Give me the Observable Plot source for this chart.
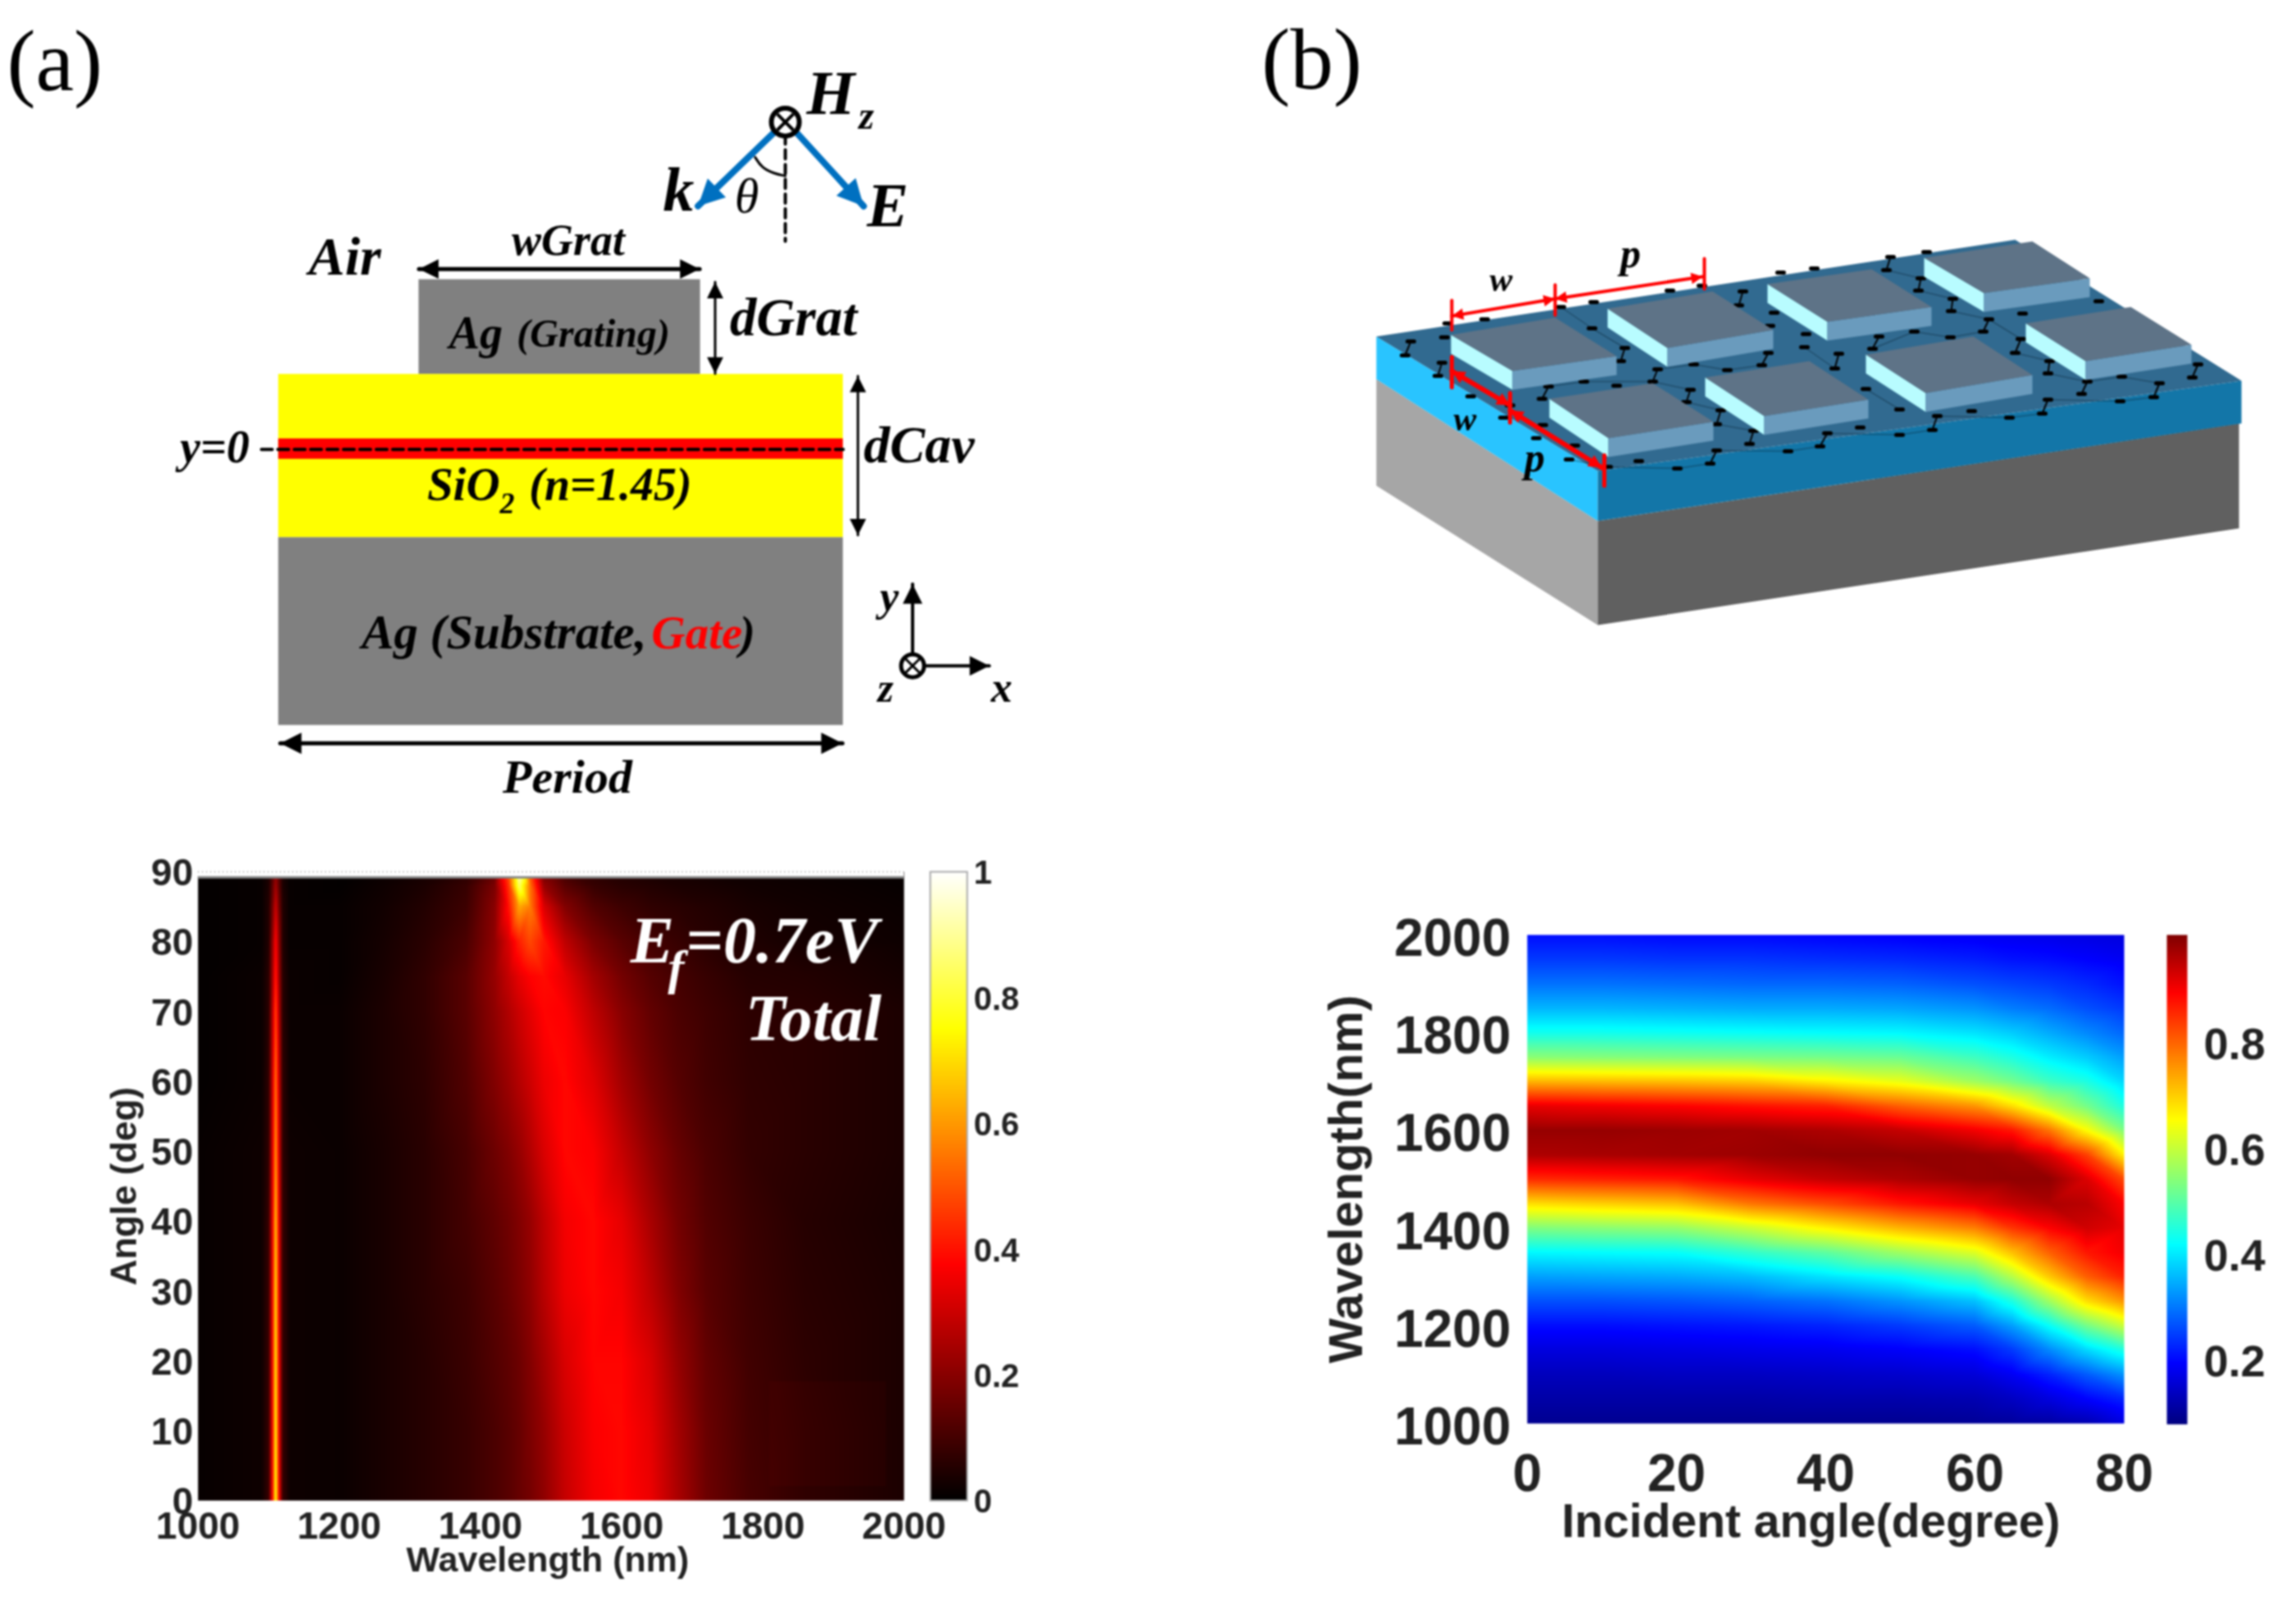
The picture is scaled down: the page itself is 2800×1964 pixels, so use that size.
<!DOCTYPE html>
<html><head><meta charset="utf-8">
<style>
html,body{margin:0;padding:0;background:#fff}
#stage{position:relative;width:2800px;height:1964px;overflow:hidden;filter:blur(0.8px)}
#stage>*{position:absolute;left:0;top:0}
</style>
<script src="https://cdn.jsdelivr.net/npm/d3@7"></script>
<script src="https://cdn.jsdelivr.net/npm/@observablehq/plot@0.6"></script>
</head><body><div id="stage"></div>
<script>
// ---------- panel (a) absorption map: values ----------
const wavelengthsA=[1000,1090,1100,1105,1110,1115,1120,1130,1200,1260,1320,1380,1420,1440,1455,1470,1490,1520,1560,1600,1640,1680,1720,1780,1860,2000];
const anglesA=[0,10,20,30,40,50,60,70,75,80,85,88,90];
const absorptionA=[
[.01,.02,.08,.35,.76,.35,.08,.02,.015,.035,.055,.08,.11,.13,.15,.17,.21,.29,.36,.385,.35,.25,.16,.105,.07,.04],
[.01,.02,.08,.34,.74,.34,.08,.02,.015,.035,.055,.08,.11,.13,.15,.18,.22,.30,.37,.385,.34,.24,.155,.10,.07,.04],
[.01,.02,.08,.34,.72,.34,.08,.02,.015,.035,.055,.085,.12,.14,.16,.19,.24,.32,.38,.38,.32,.22,.145,.095,.065,.04],
[.01,.02,.08,.33,.70,.33,.08,.02,.015,.035,.06,.09,.13,.155,.18,.21,.27,.35,.385,.36,.28,.19,.13,.09,.06,.04],
[.01,.02,.08,.32,.66,.32,.08,.02,.015,.035,.06,.10,.14,.165,.19,.22,.28,.36,.385,.34,.25,.17,.12,.085,.055,.035],
[.01,.02,.07,.30,.60,.30,.07,.02,.015,.035,.06,.105,.16,.19,.22,.26,.32,.385,.37,.29,.21,.15,.11,.075,.06,.04],
[.005,.015,.07,.28,.55,.28,.07,.015,.015,.04,.065,.12,.19,.23,.265,.30,.35,.385,.33,.24,.17,.125,.095,.07,.06,.04],
[.005,.015,.06,.25,.48,.25,.06,.015,.015,.04,.07,.13,.21,.26,.30,.335,.38,.37,.28,.20,.145,.11,.09,.065,.06,.04],
[.005,.015,.06,.22,.42,.22,.06,.015,.01,.035,.07,.13,.22,.29,.34,.375,.39,.34,.24,.17,.125,.10,.08,.055,.05,.03],
[.005,.01,.05,.20,.38,.20,.05,.01,.01,.03,.06,.11,.21,.32,.42,.48,.41,.28,.18,.13,.10,.08,.06,.045,.03,.02],
[.005,.01,.05,.16,.30,.16,.05,.01,.01,.025,.05,.09,.20,.40,.62,.56,.32,.19,.12,.09,.07,.06,.05,.035,.025,.015],
[.005,.01,.04,.13,.24,.13,.04,.01,.005,.02,.04,.08,.18,.45,.85,.55,.22,.13,.08,.06,.05,.04,.035,.025,.02,.01],
[.005,.01,.04,.11,.20,.11,.04,.01,.005,.015,.03,.06,.14,.50,.98,.50,.15,.09,.06,.045,.035,.03,.025,.02,.015,.01]
];
const xTicksA=[1000,1200,1400,1600,1800,2000];
const yTicksA=[0,10,20,30,40,50,60,70,80,90];
const barTicksA=[0,0.2,0.4,0.6,0.8,1];

// ---------- panel (b) absorption map: values ----------
const anglesB=[0,10,20,30,40,50,60,65,70,75,80];
const wavelengthsB=[1000,1050,1100,1150,1200,1250,1300,1350,1400,1450,1500,1550,1600,1650,1700,1750,1800,1850,1900,1950,2000];
const absorptionB=[
[.09,.11,.13,.16,.2,.26,.33,.41,.53,.68,.85,.96,.98,.91,.72,.54,.43,.35,.29,.24,.2],
[.09,.11,.13,.16,.2,.26,.335,.415,.54,.695,.86,.965,.98,.9,.715,.535,.43,.35,.29,.24,.2],
[.09,.11,.135,.165,.205,.265,.34,.42,.55,.71,.87,.97,.975,.89,.71,.53,.425,.345,.285,.235,.195],
[.09,.11,.135,.17,.21,.275,.355,.46,.60,.78,.91,.975,.97,.875,.70,.525,.42,.34,.28,.235,.195],
[.09,.115,.14,.175,.22,.29,.39,.50,.66,.82,.94,.985,.96,.86,.665,.52,.415,.34,.28,.23,.19],
[.09,.115,.145,.185,.24,.32,.42,.56,.72,.87,.96,.985,.94,.80,.63,.51,.41,.335,.275,.225,.185],
[.095,.12,.155,.2,.27,.36,.48,.62,.77,.91,.98,.98,.90,.75,.56,.47,.39,.32,.26,.215,.18],
[.10,.135,.18,.24,.33,.44,.58,.71,.84,.94,.985,.97,.87,.68,.52,.44,.37,.30,.25,.205,.175],
[.105,.16,.22,.31,.42,.56,.70,.80,.89,.96,.985,.92,.78,.59,.47,.40,.34,.285,.24,.20,.17],
[.12,.19,.27,.38,.52,.68,.80,.87,.93,.95,.92,.83,.65,.52,.44,.37,.31,.26,.225,.19,.165],
[.16,.22,.32,.44,.60,.75,.86,.90,.91,.89,.82,.66,.53,.44,.38,.33,.28,.24,.205,.18,.16]
];
const xTicksB=[0,20,40,60,80];
const yTicksB=[1000,1200,1400,1600,1800,2000];
const barTicksB=[0.2,0.4,0.6,0.8];

// ---------- schematic (b): device geometry in drawing units ----------
const boxL=[[1771,411],[1962,379],[2157,349],[2348,317],[1891,489],[2081,463],[2277,435],[2472,397]];
const boxT=[[1898,390],[2090,358],[2284,331],[2480,297],[2017,470],[2208,443],[2408,413],[2600,377]];
const boxR=[[1973,437],[2164,405],[2357,377],[2550,342],[2091,517],[2280,490],[2480,460],[2674,423]];
const boxF=[[1846,455],[2035,427],[2230,395],[2421,360],[1963,537],[2153,510],[2350,482],[2545,443]];
const latticeDots=[[1722,419],[1715,436],[1763,414],[1767,397],[1812,392],[1760,445],[1755,461],[1795,486],[1835,512],[1843,497],[1882,489],[1890,474],[1933,468],[1973,473],[2017,468],[2023,453],[1978,443],[1983,427],[1943,403],[1905,377],[1945,371],[2038,357],[2077,351],[2127,358],[2122,375],[2165,384],[2160,400],[2067,447],[2108,454],[2150,448],[2158,433],[2063,478],[2058,493],[2100,503],[2095,520],[2140,528],[2135,544],[2095,552],[2087,568],[2047,574],[2000,565],[1962,572],[1922,546],[1915,563],[1875,537],[1883,521],[2182,553],[2173,335],[2214,330],[2307,316],[2302,332],[2351,310],[2344,342],[2341,357],[2383,367],[2381,382],[2427,392],[2420,407],[2468,385],[2466,416],[2459,433],[2501,443],[2499,458],[2547,468],[2540,483],[2589,462],[2635,470],[2628,487],[2682,447],[2675,463],[2561,370],[2587,492],[2499,490],[2492,507],[2452,512],[2406,504],[2364,510],[2358,527],[2318,533],[2318,502],[2277,477],[2239,452],[2244,434],[2285,428],[2293,413],[2336,407],[2380,414],[2270,524],[2230,531],[2221,547],[2204,410],[2202,426]];
const latticeLinks=[
[[1722,419],[1715,436]],[[1760,445],[1755,461]],[[1890,474],[1882,489]],[[2023,453],[2017,468]],[[1983,427],[1978,443]],[[2127,358],[2122,375]],[[2158,433],[2150,448]],[[2063,478],[2058,493]],[[2100,503],[2095,520]],[[2140,528],[2135,544]],[[2095,552],[2087,568]],[[2307,316],[2302,332]],[[2344,342],[2341,357]],[[2383,367],[2381,382]],[[2427,392],[2420,407]],[[2466,416],[2459,433]],[[2501,443],[2499,458]],[[2547,468],[2540,483]],[[2635,470],[2628,487]],[[2682,447],[2675,463]],[[2499,490],[2492,507]],[[2364,510],[2358,527]],[[2244,434],[2239,452]],[[2293,413],[2285,428]],[[2230,531],[2221,547]]
];
const latticeEdges=[
[[1915,563],[1962,572],[2047,574],[2087,568]],[[2095,552],[2182,553],[2221,547]],[[2230,531],[2318,533],[2358,527]],[[2364,510],[2452,512],[2492,507]],[[2499,490],[2587,492],[2628,487]],[[2635,470],[2589,462],[2547,468]],[[2017,468],[1933,468],[1890,474]],[[2023,453],[2067,447],[2108,454],[2150,448]],[[2140,528],[2095,520]],[[2058,493],[2100,503]],[[2017,468],[2063,478]],[[2202,426],[2239,452]],[[2277,477],[2318,502]],[[2285,428],[2336,407],[2380,414],[2420,407]],[[2427,392],[2466,416]],[[2459,433],[2501,443]],[[2499,458],[2547,468]],[[2302,332],[2344,342]],[[2341,357],[2383,367]],[[2381,382],[2427,392]],[[1943,403],[1983,427]],[[1905,377],[1943,403]]
];

// ---------- helpers ----------
const flatten=(xs,ys,rows)=>rows.flatMap((r,i)=>r.map((v,j)=>({x:xs[j],y:ys[i],v})));
const hot={type:"linear",domain:[0,.375,.75,1],range:["#000000","#ff0000","#ffff00","#ffffff"],clamp:true};
const jet={type:"linear",domain:[.074,.19,.415,.53,.65,.89,1],range:["#00007f","#0000ff","#00ffff","#7fff7f","#ffff00","#ff0000","#7f0000"],clamp:true};
const frameOf=(l,t,r,b)=>({width:2800,height:1964,marginLeft:l,marginTop:t,marginRight:2800-r,marginBottom:1964-b,style:{background:"transparent",overflow:"visible"}});
const sans={fontFamily:"Liberation Sans",fontWeight:"bold",fill:"#222"};
const label=d=>String(d);
const stage=document.getElementById("stage");
const add=p=>stage.appendChild(p);

// ---------- heat map (a) ----------
add(Plot.plot({...frameOf(241,1063,1102,1830),
  x:{domain:[1000,2000]},y:{domain:[0,90]},color:hot,
  marks:[
    Plot.raster(flatten(wavelengthsA,anglesA,absorptionA),{x:"x",y:"y",fill:"v",interpolate:"barycentric"}),
    Plot.rect([{x1:1810,x2:1975,y1:2,y2:17}],{x1:"x1",x2:"x2",y1:"y1",y2:"y2",fill:"#ff0000",fillOpacity:.035}),
    Plot.rect([{x1:1000,x2:2000,y1:89.2,y2:90.2}],{x1:"x1",x2:"x2",y1:"y1",y2:"y2",fill:"#fff"}),
    Plot.ruleY([89.2],{stroke:"#888",strokeWidth:3}),
    Plot.ruleY([90],{stroke:"#ccc",strokeWidth:2,strokeDasharray:"2 3"}),
    Plot.axisX({ticks:xTicksA,tickFormat:label,label:null,tickSize:0,tickPadding:14,fontSize:46,...sans}),
    Plot.axisY({ticks:yTicksA,tickFormat:label,label:null,tickSize:0,tickPadding:6,fontSize:46,dy:2,...sans}),
    Plot.text(["Wavelength (nm)"],{frameAnchor:"bottom",dy:86,dx:-4,fontSize:43,...sans}),
    Plot.text(["Angle (deg)"],{frameAnchor:"left",textAnchor:"middle",dx:-90,rotate:-90,fontSize:44,...sans})
  ]}));

// ---------- colour bar (a) ----------
add(Plot.plot({...frameOf(1134,1063,1179,1830),
  x:{domain:[0,1],axis:null},y:{domain:[0,1]},color:hot,
  marks:[
    Plot.raster({x1:0,x2:1,y1:0,y2:1,fill:(x,y)=>y}),
    Plot.frame({stroke:"#aaa",strokeWidth:2}),
    Plot.axisY({anchor:"right",ticks:barTicksA,tickFormat:label,label:null,tickSize:0,tickPadding:8,fontSize:40,dy:2,...sans})
  ]}));

// ---------- heat map (b) ----------
add(Plot.plot({...frameOf(1862,1140,2590,1736),
  x:{domain:[0,80]},y:{domain:[1000,2000]},color:jet,
  marks:[
    Plot.raster(flatten(wavelengthsB,anglesB,absorptionB).map(d=>({x:d.y,y:d.x,v:d.v})),{x:"x",y:"y",fill:"v",interpolate:"barycentric"}),
    Plot.axisX({ticks:xTicksB,tickFormat:label,label:null,tickSize:0,tickPadding:37,fontSize:64,...sans}),
    Plot.axisY({ticks:yTicksB,tickFormat:label,label:null,tickSize:0,tickPadding:20,fontSize:64,dy:5,...sans}),
    Plot.text(["Incident angle(degree)"],{frameAnchor:"bottom",dy:138,dx:-18,fontSize:57,...sans}),
    Plot.text(["Wavelength(nm)"],{frameAnchor:"left",textAnchor:"middle",dx:-220,rotate:-90,fontSize:58,...sans})
  ]}));

// ---------- colour bar (b) ----------
add(Plot.plot({...frameOf(2642,1140,2667,1737),
  x:{domain:[0,1],axis:null},y:{domain:[.074,1]},color:jet,
  marks:[
    Plot.raster({x1:0,x2:1,y1:.074,y2:1,fill:(x,y)=>y}),
    Plot.axisY({anchor:"right",ticks:barTicksB,tickFormat:label,label:null,tickSize:0,tickPadding:20,fontSize:54,dy:5,...sans})
  ]}));

// ---------- schematics ----------
const poly=(pts,fill)=>Plot.line(pts,{x:d=>d[0],y:d=>d[1],fill,stroke:"none",curve:"linear-closed"});
const seg=(pts,stroke,strokeWidth,extra={})=>Plot.line(pts,{x:d=>d[0],y:d=>d[1],stroke,strokeWidth,...extra});
function head(from,to,size,fill){
  const dx=to[0]-from[0],dy=to[1]-from[1],n=Math.hypot(dx,dy),ux=dx/n,uy=dy/n,w=size*.5;
  return poly([to,[to[0]-ux*size-uy*w,to[1]-uy*size+ux*w],[to[0]-ux*size+uy*w,to[1]-uy*size-ux*w]],fill);
}
const arrow=(a,b,color,sw,size)=>[seg([a,b],color,sw),head(a,b,size,color)];
const dbl=(a,b,color,sw,size)=>[seg([a,b],color,sw),head(a,b,size,color),head(b,a,size,color)];
const serif=(t,x,y,size,extra={})=>Plot.text([t],{x:()=>x,y:()=>y,text:d=>d,fontSize:size,fontFamily:"Liberation Serif",fontWeight:"bold",fontStyle:"italic",textAnchor:"start",lineAnchor:"bottom",fill:"#000",...extra});

const rows=boxL.map((_,i)=>i);
const h=23;
const drop=p=>[p[0],p[1]+h];
const diagramA=[
  serif("(a)",8,110,105,{fontWeight:"normal",fontStyle:"normal"}),
  // stack
  Plot.rect([0],{x1:()=>513,x2:()=>858,y1:()=>342,y2:()=>458,fill:"#808080"}),
  Plot.rect([0],{x1:()=>341,x2:()=>1033,y1:()=>458,y2:()=>658,fill:"#ffff00"}),
  Plot.rect([0],{x1:()=>341,x2:()=>1033,y1:()=>537,y2:()=>562,fill:"#ff0000"}),
  Plot.rect([0],{x1:()=>341,x2:()=>1033,y1:()=>658,y2:()=>888,fill:"#808080"}),
  seg([[320,550],[1033,550]],"#000",4,{strokeDasharray:"13 7"}),
  // incident light
  seg([[962,165],[962,295]],"#000",4,{strokeDasharray:"11 7"}),
  ...arrow([950,160],[855,252],"#0070c0",8,32),
  ...arrow([974,160],[1058,252],"#0070c0",8,32),
  Plot.line([[925,192],[933,205],[948,212],[962,215]],{x:d=>d[0],y:d=>d[1],stroke:"#000",strokeWidth:3,curve:"basis"}),
  Plot.dot([[962,149]],{x:d=>d[0],y:d=>d[1],r:17,stroke:"#000",strokeWidth:6,fill:"#fff"}),
  Plot.dot([[962,149]],{x:d=>d[0],y:d=>d[1],r:9,symbol:"times",stroke:"#000",strokeWidth:4}),
  serif("H",988,139,76),
  serif("z",1052,157,48),
  serif("k",812,258,76),
  serif("θ",900,260,60,{fontWeight:"normal"}),
  serif("E",1062,277,76),
  // dimension arrows
  ...dbl([513,329],[857,329],"#000",5,24),
  ...dbl([876,345],[876,457],"#000",3,20),
  ...dbl([1051,460],[1051,655],"#000",3,20),
  ...dbl([343,910],[1032,910],"#000",5,26),
  serif("wGrat",696,312,54,{textAnchor:"middle"}),
  serif("Air",378,336,66),
  serif("Ag",550,426,56),
  serif("(Grating)",633,424,48),
  serif("dGrat",894,410,65),
  serif("dCav",1058,566,64),
  serif("y=0",220,566,56),
  serif("SiO",523,612,57),
  serif("2",612,628,36),
  serif("(n=1.45)",648,612,56),
  serif("Ag (Substrate,",792,794,59,{textAnchor:"end"}),
  serif("Gate",798,794,57,{fill:"#ff0000"}),
  serif(")",906,794,57),
  serif("Period",695,970,58,{textAnchor:"middle"}),
  // axes
  ...arrow([1118,815],[1118,715],"#000",4,24),
  ...arrow([1118,815],[1212,815],"#000",4,24),
  Plot.dot([[1118,815]],{x:d=>d[0],y:d=>d[1],r:14,stroke:"#000",strokeWidth:5,fill:"#fff"}),
  Plot.dot([[1118,815]],{x:d=>d[0],y:d=>d[1],r:8,symbol:"times",stroke:"#000",strokeWidth:3}),
  serif("y",1078,748,52),
  serif("z",1075,859,50),
  serif("x",1214,859,52),
  // Ef label
  serif("E",772,1178,80,{fill:"#fff"}),
  serif("f",818,1204,60,{fill:"#fff"}),
  serif("=0.7eV",840,1178,80,{fill:"#fff"}),
  serif("Total",1080,1274,80,{fill:"#fff",textAnchor:"end"})
];
const diagramB=[
  serif("(b)",1540,110,105,{fontWeight:"normal",fontStyle:"normal"}),
  poly([[1680,465],[1950,638],[1950,765],[1680,595]],"#a6a6a6"),
  poly([[1950,638],[2732,519],[2732,647],[1950,765]],"#606060"),
  poly([[1680,413],[1950,577],[1950,638],[1680,465]],"#29c4ff"),
  poly([[1950,577],[2735,467],[2735,519],[1950,638]],"#1376a8"),
  poly([[1680,413],[2459,295],[2735,467],[1950,577]],"#316a90"),
  ...latticeEdges.map(l=>seg(l,"#0b2536",1.5,{strokeOpacity:.4})),
  ...latticeLinks.map(l=>seg(l,"#000",2)),
  Plot.link(latticeDots,{x1:d=>d[0]-4,x2:d=>d[0]+4,y1:d=>d[1],y2:d=>d[1],stroke:"#000",strokeWidth:5,strokeLinecap:"round"}),
  ...rows.flatMap(i=>[
    poly([boxL[i],boxF[i],drop(boxF[i]),drop(boxL[i])],"#b8fcff"),
    poly([boxF[i],boxR[i],drop(boxR[i]),drop(boxF[i])],"#6a9bbd"),
    poly([boxL[i],boxT[i],boxR[i],boxF[i]],"#5e7387")
  ]),
  seg([[1772,369],[1772,405]],"#ff0000",4),
  seg([[1898,350],[1898,387]],"#ff0000",4),
  seg([[2080,318],[2080,355]],"#ff0000",4),
  ...dbl([1772,388],[1898,367],"#ff0000",4,14),
  ...dbl([1898,367],[2078,340],"#ff0000",4,14),
  seg([[1772,438],[1772,475]],"#ff0000",5),
  seg([[1843,482],[1843,518]],"#ff0000",5),
  seg([[1958,558],[1958,595]],"#ff0000",5),
  ...dbl([1772,455],[1843,497],"#ff0000",6,16),
  ...dbl([1843,503],[1955,573],"#ff0000",6,16),
  serif("w",1832,357,42,{textAnchor:"middle"}),
  serif("p",1990,328,50,{textAnchor:"middle"}),
  serif("w",1788,527,42,{textAnchor:"middle"}),
  serif("p",1873,577,50,{textAnchor:"middle"})
];
const sheet=(marks,xr,yr)=>Plot.plot({width:2800,height:1964,margin:0,
  x:{domain:[0,2800],range:xr,axis:null},
  y:{domain:[0,1964],range:yr,axis:null},
  style:{background:"transparent",overflow:"visible"},marks});
add(sheet(diagramA,[0,2786],[0,1956]));
add(sheet(diagramB,[-2,2798],[-3,1961]));
</script></body></html>
